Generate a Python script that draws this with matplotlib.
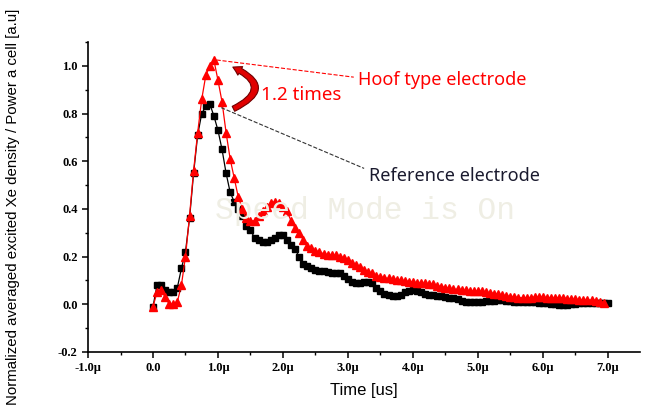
import numpy as np
import matplotlib
matplotlib.use("Agg")
import matplotlib.pyplot as plt
from matplotlib.patches import FancyArrowPatch

######## DATA ########

DT = 0.0625  # us, sample step

ref_values = [
    -0.01, 0.08, 0.08, 0.06, 0.05, 0.05, 0.07, 0.15, 0.22, 0.36,
    0.55, 0.71, 0.80, 0.83, 0.84, 0.79, 0.73, 0.65, 0.55, 0.47,
    0.43, 0.40, 0.37, 0.33, 0.31, 0.28, 0.27, 0.26, 0.26, 0.27,
    0.28, 0.29, 0.29, 0.27, 0.25, 0.23, 0.20, 0.17, 0.16, 0.15,
    0.145, 0.14, 0.14, 0.135, 0.13, 0.13, 0.13, 0.12, 0.105, 0.095,
    0.09, 0.09, 0.095, 0.095, 0.09, 0.07, 0.055, 0.045, 0.04, 0.035,
    0.035, 0.04, 0.05, 0.055, 0.058, 0.055, 0.05, 0.045, 0.04, 0.038,
    0.036, 0.034, 0.03, 0.027, 0.025, 0.02, 0.015, 0.01, 0.009, 0.008,
    0.008, 0.01, 0.012, 0.012, 0.015, 0.017, 0.016, 0.014, 0.012, 0.01,
    0.01, 0.01, 0.01, 0.01, 0.008, 0.006, 0.005, 0.004, 0.002, 0.0,
    -0.002, -0.004, -0.004, 0.0, 0.002, 0.004, 0.004, 0.004, 0.005, 0.005,
    0.005, 0.005, 0.005,
]

hoof_values = [
    -0.01, 0.05, 0.06, 0.03, 0.0, 0.0, 0.01, 0.08, 0.20, 0.37,
    0.56, 0.72, 0.86, 0.96, 1.00, 1.025, 0.94, 0.85, 0.72, 0.61,
    0.53, 0.45, 0.40, 0.36, 0.35, 0.35, 0.37, 0.39, 0.41, 0.425,
    0.43, 0.425, 0.41, 0.39, 0.35, 0.32, 0.30, 0.27, 0.245, 0.235,
    0.225, 0.218, 0.212, 0.208, 0.205, 0.205, 0.20, 0.195, 0.185, 0.175,
    0.165, 0.155, 0.145, 0.135, 0.13, 0.12, 0.115, 0.11, 0.108, 0.105,
    0.103, 0.10, 0.098, 0.095, 0.093, 0.09, 0.088, 0.087, 0.085, 0.083,
    0.078, 0.073, 0.07, 0.066, 0.063, 0.062, 0.06, 0.058, 0.056, 0.055,
    0.055, 0.054, 0.05, 0.048, 0.045, 0.042, 0.038, 0.035, 0.032, 0.03,
    0.028, 0.027, 0.027, 0.028, 0.03, 0.03, 0.029, 0.028, 0.027, 0.027,
    0.028, 0.026, 0.024, 0.022, 0.02, 0.019, 0.018, 0.017, 0.016, 0.014,
    0.011, 0.007,
]

t_ref = np.arange(len(ref_values)) * DT
t_hoof = np.arange(len(hoof_values)) * DT

x_ticks = [-1, 0, 1, 2, 3, 4, 5, 6, 7]
x_tick_labels = ["-1.0\u03bc", "0.0", "1.0\u03bc", "2.0\u03bc", "3.0\u03bc",
                 "4.0\u03bc", "5.0\u03bc", "6.0\u03bc", "7.0\u03bc"]
y_ticks = [-0.2, 0.0, 0.2, 0.4, 0.6, 0.8, 1.0]

######## PLOT ########

fig = plt.figure(figsize=(6.52, 4.13), dpi=100)
ax = fig.add_axes([0.135, 0.148, 0.847, 0.75])

ax.plot(t_ref, ref_values, color="black", marker="s", markersize=4.6,
        linewidth=0.9, zorder=3)
ax.plot(t_hoof, hoof_values, color="red", marker="^", markersize=5.8,
        linewidth=0.9, zorder=4)

ax.set_xlim(-1.0, 7.5)
ax.set_ylim(-0.2, 1.1)
ax.set_xticks(x_ticks)
ax.set_xticklabels(x_tick_labels)
ax.set_yticks(y_ticks)
ax.set_yticklabels([f"{v:.1f}" for v in y_ticks])
ax.set_xticks(np.arange(-0.5, 7.5, 1.0), minor=True)
ax.set_yticks(np.arange(-0.1, 1.1, 0.2), minor=True)

for side in ["top", "right"]:
    ax.spines[side].set_visible(False)
for side in ["left", "bottom"]:
    ax.spines[side].set_linewidth(1.2)

ax.tick_params(which="major", direction="out", length=4, width=1.1)
ax.tick_params(which="minor", direction="out", length=2.5, width=1.0)
for lab in ax.get_xticklabels() + ax.get_yticklabels():
    lab.set_fontfamily("Liberation Serif")
    lab.set_fontweight("bold")
    lab.set_fontsize(9)

ax.set_xlabel("Time [us]", fontsize=12, family="Liberation Sans", labelpad=6)
fig.text(0.02, 0.5, "Normalized averaged excited Xe density / Power a cell [a.u]",
         rotation=90, ha="center", va="center", fontsize=10.8, family="Liberation Sans")

# watermark
fig.text(0.56, 0.489, "Speed Mode is On", ha="center", va="center",
         fontsize=22.5, family="Liberation Mono", color="#efeee4", zorder=0)

# annotations
ax.plot([0.98, 3.09], [1.025, 0.953], color="red", linestyle="--",
        linewidth=0.8, zorder=5)
ax.plot([1.05, 3.25], [0.825, 0.57], color="#333333", linestyle="--",
        linewidth=0.8, zorder=5)
ax.text(3.15, 0.94, "Hoof type electrode", color="red", fontsize=13,
        family="Noto Sans", va="center", ha="left")
ax.text(3.33, 0.54, "Reference electrode", color="#1a1a2e", fontsize=13,
        family="Noto Sans", va="center", ha="left")
ax.text(1.66, 0.88, "1.2 times", color="red", fontsize=13.5,
        family="Noto Sans", va="center", ha="left")

arrow = FancyArrowPatch((1.2, 0.815), (1.19, 1.0),
                        connectionstyle="arc3,rad=1.1",
                        arrowstyle="simple,head_width=7,head_length=6,tail_width=4",
                        facecolor="#e00000", edgecolor="#700000", linewidth=0.8,
                        zorder=6)
ax.add_patch(arrow)

fig.savefig("out.png", dpi=100)
